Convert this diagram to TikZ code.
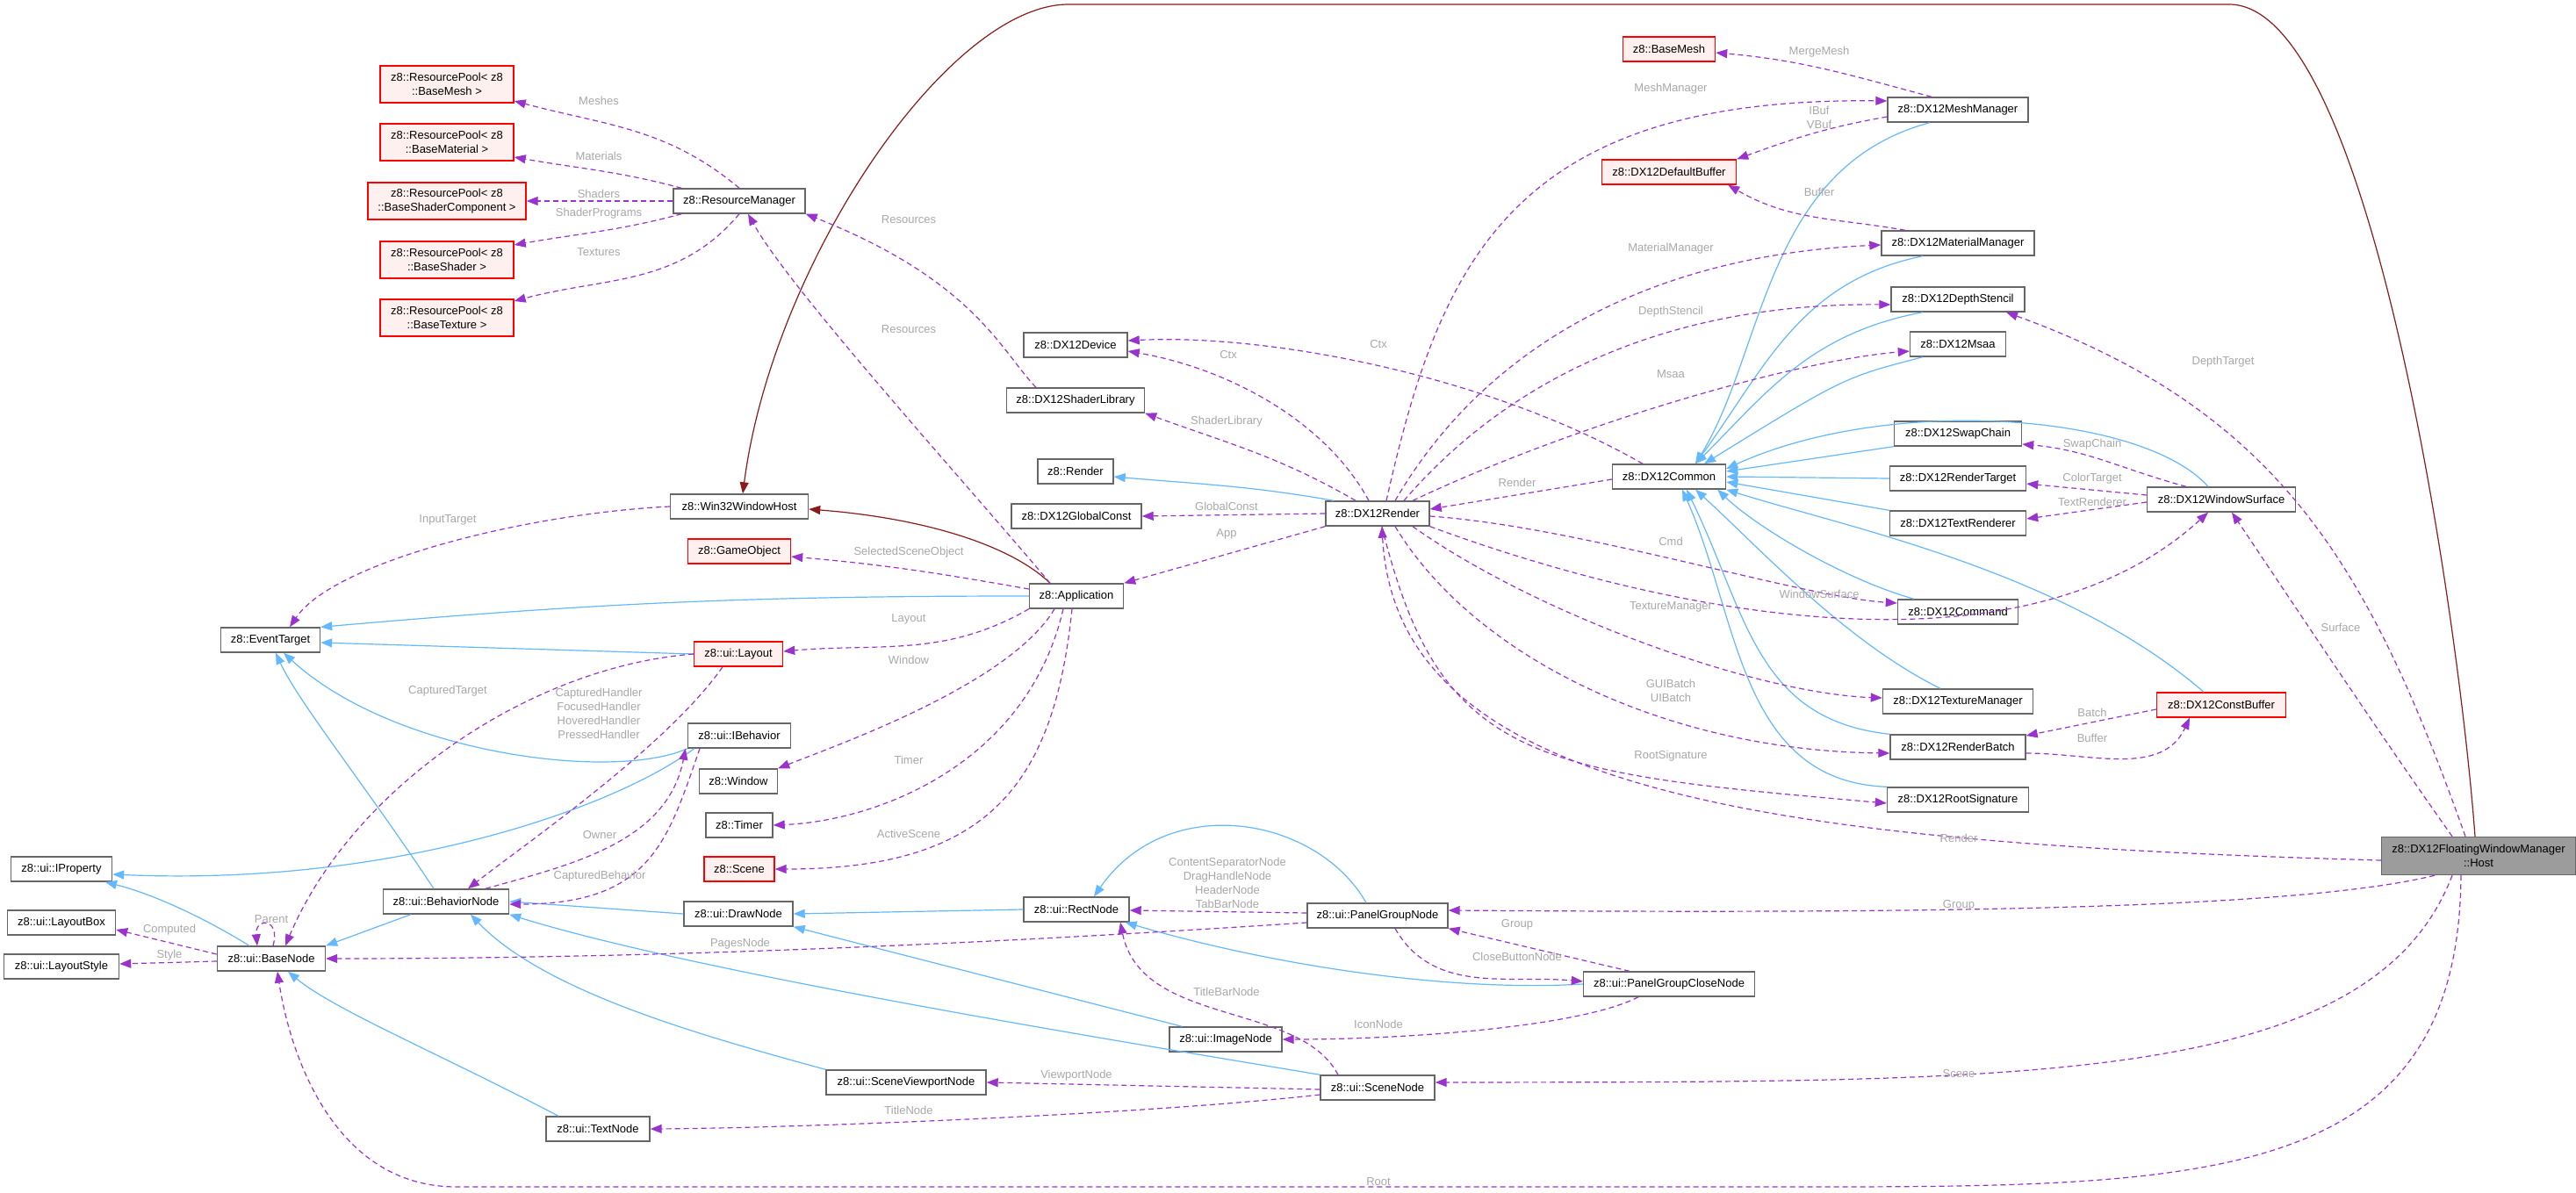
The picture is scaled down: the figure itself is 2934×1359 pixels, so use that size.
\documentclass[tikz,border=0pt]{standalone}
\usepackage{fontspec}
\setmainfont{Liberation Sans}
\usetikzlibrary{arrows.meta}
\definecolor{purp}{HTML}{9A32CD}
\definecolor{blu}{HTML}{63B8FF}
\definecolor{dred}{HTML}{8B1A1A}
\definecolor{bord}{HTML}{666666}
\definecolor{lab}{HTML}{A8A8A8}
\begin{document}
\begin{tikzpicture}[x=1pt,y=-1pt,
  every node/.style={font=\fontsize{13}{16}\selectfont},
  cls/.style={draw=bord,line width=1.4pt,fill=white,inner sep=0pt,minimum height=28pt,align=center},
  two/.style={minimum height=42pt},
  red/.style={draw=red,fill=red!6},
  lbl/.style={text=lab,inner sep=0pt,align=center},
  pd/.style={draw=purp,line width=1.2pt,dash pattern=on 6pt off 4pt,-{Triangle[length=13pt,width=10pt]}},
  bl/.style={draw=blu,line width=1.2pt,-{Triangle[length=13pt,width=10pt]}},
  dr/.style={draw=dred,line width=1.2pt,-{Triangle[length=13pt,width=10pt]}}]
\path[use as bounding box,fill=white] (0,0) rectangle (2934,1359);
% nodes
\node[cls,two,red,minimum width=152pt] (rpMesh) at (509,96) {z8::ResourcePool< z8\\::BaseMesh >};
\node[cls,two,red,minimum width=152pt] (rpMat) at (509,162) {z8::ResourcePool< z8\\::BaseMaterial >};
\node[cls,two,red,minimum width=180pt] (rpSC) at (509,229) {z8::ResourcePool< z8\\::BaseShaderComponent >};
\node[cls,two,red,minimum width=152pt] (rpShader) at (509,296) {z8::ResourcePool< z8\\::BaseShader >};
\node[cls,two,red,minimum width=152pt] (rpTex) at (509,362) {z8::ResourcePool< z8\\::BaseTexture >};
\node[cls,minimum width=150pt] (rm) at (842,229) {z8::ResourceManager};
\node[cls,minimum width=157pt] (win) at (842,577) {z8::Win32WindowHost};
\node[cls,red,minimum width=117pt] (gobj) at (842,628) {z8::GameObject};
\node[cls,minimum width=113pt] (evt) at (308,729) {z8::EventTarget};
\node[cls,red,minimum width=101pt] (layout) at (841,745) {z8::ui::Layout};
\node[cls,minimum width=117pt] (ibeh) at (842,838) {z8::ui::IBehavior};
\node[cls,minimum width=89pt] (window) at (841,890) {z8::Window};
\node[cls,minimum width=76pt] (timer) at (842,940) {z8::Timer};
\node[cls,red,minimum width=80pt] (scene) at (842,990) {z8::Scene};
\node[cls,minimum width=115pt] (iprop) at (70,990) {z8::ui::IProperty};
\node[cls,minimum width=123pt] (lbox) at (70,1051) {z8::ui::LayoutBox};
\node[cls,minimum width=131pt] (lstyle) at (70,1101) {z8::ui::LayoutStyle};
\node[cls,minimum width=123pt] (base) at (309,1092) {z8::ui::BaseNode};
\node[cls,minimum width=143pt] (bnode) at (508,1027) {z8::ui::BehaviorNode};
\node[cls,minimum width=124pt] (dnode) at (841,1041) {z8::ui::DrawNode};
\node[cls,minimum width=118pt] (tnode) at (681,1286) {z8::ui::TextNode};
\node[cls,minimum width=182pt] (svp) at (1032,1233) {z8::ui::SceneViewportNode};
\node[cls,minimum width=120pt] (rect) at (1226,1036) {z8::ui::RectNode};
\node[cls,minimum width=160pt] (pgn) at (1569,1043) {z8::ui::PanelGroupNode};
\node[cls,minimum width=195pt] (pgcn) at (1901,1121) {z8::ui::PanelGroupCloseNode};
\node[cls,minimum width=128pt] (img) at (1396,1184) {z8::ui::ImageNode};
\node[cls,minimum width=130pt] (sn) at (1569,1239) {z8::ui::SceneNode};
\node[cls,red,minimum width=105pt] (basemesh) at (1901,56) {z8::BaseMesh};
\node[cls,red,minimum width=153pt] (defbuf) at (1901,196) {z8::DX12DefaultBuffer};
\node[cls,minimum width=118pt] (dev) at (1225,393) {z8::DX12Device};
\node[cls,minimum width=157pt] (shlib) at (1225,456) {z8::DX12ShaderLibrary};
\node[cls,minimum width=86pt] (render) at (1225,537) {z8::Render};
\node[cls,minimum width=148pt] (gconst) at (1226,588) {z8::DX12GlobalConst};
\node[cls,minimum width=118pt] (dxr) at (1569,585) {z8::DX12Render};
\node[cls,minimum width=129pt] (dxc) at (1901,543) {z8::DX12Common};
\node[cls,minimum width=107pt] (app) at (1226,679) {z8::Application};
\node[cls,minimum width=160pt] (mm) at (2230,125) {z8::DX12MeshManager};
\node[cls,minimum width=174pt] (mat) at (2230,277) {z8::DX12MaterialManager};
\node[cls,minimum width=152pt] (ds) at (2230,341) {z8::DX12DepthStencil};
\node[cls,minimum width=109pt] (msaa) at (2230,392) {z8::DX12Msaa};
\node[cls,minimum width=145pt] (sc) at (2230,494) {z8::DX12SwapChain};
\node[cls,minimum width=155pt] (rt) at (2230,545) {z8::DX12RenderTarget};
\node[cls,minimum width=155pt] (tr) at (2230,596) {z8::DX12TextRenderer};
\node[cls,minimum width=169pt] (ws) at (2530,569) {z8::DX12WindowSurface};
\node[cls,minimum width=137pt] (cmd) at (2230,697) {z8::DX12Command};
\node[cls,minimum width=171pt] (tm) at (2230,799) {z8::DX12TextureManager};
\node[cls,red,minimum width=147pt] (cb) at (2530,803) {z8::DX12ConstBuffer};
\node[cls,minimum width=154pt] (rb) at (2230,851) {z8::DX12RenderBatch};
\node[cls,minimum width=161pt] (rs) at (2230,911) {z8::DX12RootSignature};
\node[cls,two,fill=bord!65,minimum width=221pt,minimum height=43pt] (host) at (2823,975) {z8::DX12FloatingWindowManager\\::Host};
% dark red
\draw[dr] ([xshift=-4]host.north) .. controls (2800,700) and (2700,5) .. (2539,5) -- (1217,5) .. controls (1080,5) and (880,300) .. ([xshift=4]win.north);
\draw[dr] ([xshift=-30]app.north) .. controls (1150,620) and (1050,590) .. ([yshift=-3]win.east);
% blue inheritance
\draw[bl] (app.west) to[out=180,in=5] (evt.north east);
\draw[bl] (layout.west) -- ([yshift=-3]evt.east);
\draw[bl] (ibeh.south west) .. controls (700,890) and (450,860) .. ([xshift=15]evt.south);
\draw[bl] ([xshift=-14]bnode.north) .. controls (420,900) and (340,800) .. ([xshift=6]evt.south);
\draw[bl] ([xshift=8]ibeh.south west) .. controls (700,920) and (450,1010) .. ([yshift=-6]iprop.east);
\draw[bl] ([xshift=-25]base.north) .. controls (240,1050) and (180,1020) .. ([xshift=50]iprop.south);
\draw[bl] ([xshift=-40]bnode.south) -- (base.north east);
\draw[bl] (dnode.west) -- (bnode.east);
\draw[bl] (svp.north west) .. controls (800,1180) and (620,1130) .. ([xshift=28]bnode.south);
\draw[bl] (sn.north west) .. controls (1300,1190) and (800,1110) .. (bnode.south east);
\draw[bl] ([xshift=15]img.north west) -- (dnode.south east);
\draw[bl] (rect.west) -- (dnode.east);
\draw[bl] ([xshift=-13]pgn.north) .. controls (1500,930) and (1330,900) .. ([xshift=20]rect.north);
\draw[bl] (pgcn.west) .. controls (1650,1130) and (1450,1100) .. ([xshift=-5]rect.south east);
\draw[bl] ([xshift=-45]tnode.north) .. controls (500,1200) and (380,1150) .. ([xshift=19]base.south);
\draw[bl] ([xshift=-50]dxr.north) to[out=170,in=-5] ([yshift=-6]render.east);
\draw[bl] ([xshift=-32]mm.south) .. controls (2010,190) and (2010,400) .. ([xshift=30]dxc.north);
\draw[bl] ([xshift=-40]mat.south) .. controls (2050,320) and (2010,420) .. ([xshift=30]dxc.north);
\draw[bl] ([xshift=-40]ds.south) .. controls (2060,380) and (2010,450) .. ([xshift=30]dxc.north);
\draw[bl] ([xshift=-40]msaa.south) .. controls (2100,430) .. ([xshift=40]dxc.north);
\draw[bl] (sc.south west) -- ([yshift=6]dxc.east);
\draw[bl] (rt.west) -- (dxc.east);
\draw[bl] (tr.north west) -- ([yshift=-6]dxc.east);
\draw[bl] ([xshift=-15]ws.north) .. controls (2440,470) and (2150,450) .. ([yshift=9]dxc.east);
\draw[bl] ([xshift=-50]cmd.north) .. controls (2100,660) and (2000,600) .. ([xshift=-10]dxc.south east);
\draw[bl] ([xshift=-20]tm.north) .. controls (2100,730) and (2000,620) .. ([xshift=30]dxc.south);
\draw[bl] (rb.north west) .. controls (2000,820) and (1990,700) .. ([xshift=20]dxc.south);
\draw[bl] (rs.north west) .. controls (1980,890) and (1980,700) .. ([xshift=15]dxc.south);
\draw[bl] ([xshift=-20]cb.north) .. controls (2350,650) and (2100,600) .. (dxc.south east);
% purple: resource manager
\draw[pd] (rm.north) to[out=140,in=-15] ([yshift=-19]rpMesh.east);
\draw[pd] ([xshift=10]rm.north west) to[out=165,in=-10] ([yshift=-17]rpMat.east);
\draw[pd] (rm.west) -- (rpSC.east);
\draw[pd] ([xshift=10]rm.south west) to[out=195,in=10] ([yshift=17]rpShader.east);
\draw[pd] (rm.south) to[out=-130,in=15] ([yshift=19]rpTex.east);
\draw[pd] ([xshift=-45]shlib.north) .. controls (1140,400) and (1110,320) .. (rm.south east);
\draw[pd] ([xshift=-30]app.north) .. controls (1100,550) and (900,330) .. ([xshift=10]rm.south);
% app / ui
\draw[pd] (win.west) .. controls (600,585) and (380,640) .. ([xshift=22]evt.north);
\draw[pd] ([yshift=8]app.west) to[out=170,in=-5] ([yshift=-6]gobj.east);
\draw[pd] (app.south west) to[out=-150,in=5] ([yshift=3]layout.east);
\draw[pd] ([xshift=-25]app.south) .. controls (1150,780) and (950,850) .. (window.north east);
\draw[pd] ([xshift=-15]app.south) .. controls (1170,870) and (1000,935) .. (timer.east);
\draw[pd] ([xshift=-5]app.south) .. controls (1200,900) and (1120,990) .. (scene.east);
\draw[pd] (layout.west) .. controls (600,760) and (400,900) .. ([xshift=16]base.north);
\draw[pd] ([xshift=-18]layout.south) .. controls (760,850) and (600,960) .. ([xshift=25]bnode.north);
\draw[pd] ([xshift=45]bnode.north) .. controls (650,985) and (760,960) .. ([xshift=-2]ibeh.south west);
\draw[pd] ([xshift=-45]ibeh.south) .. controls (760,960) and (740,1030) .. ([yshift=-3]bnode.east);
\draw[pd] ([xshift=2]base.north) .. controls (320,1045) and (290,1045) .. ([xshift=-16]base.north);
\draw[pd] ([yshift=5]base.west) -- ([yshift=-8]lbox.east);
\draw[pd] ([yshift=-3]base.west) -- ([yshift=3]lstyle.east);
\draw[pd] ([yshift=-8]pgn.west) .. controls (1200,1070) and (800,1092) .. (base.east);
\draw[pd] ([xshift=-20]host.south) .. controls (2800,1360) and (2500,1352) .. (2000,1352) -- (520,1352) .. controls (380,1352) and (330,1200) .. ([xshift=7]base.south);
\draw[pd] ([yshift=-8]sn.west) .. controls (1300,1270) and (900,1285) .. (tnode.east);
\draw[pd] ([yshift=-2]sn.west) -- (svp.east);
\draw[pd] ([yshift=3]pgn.west) -- ([yshift=-1]rect.east);
\draw[pd] ([xshift=-45]sn.north) .. controls (1480,1140) and (1300,1170) .. ([xshift=50]rect.south);
\draw[pd] ([xshift=-35]pgcn.south) .. controls (1800,1170) and (1600,1184) .. (img.east);
\draw[pd] ([xshift=20]pgn.south) to[out=-60,in=175] ([yshift=3]pgcn.west);
\draw[pd] ([xshift=-45]pgcn.north) -- (pgn.south east);
\draw[pd] ([xshift=-50]host.south) .. controls (2600,1040) and (2100,1040) .. ([yshift=6]pgn.east);
\draw[pd] ([xshift=-30]host.south) .. controls (2700,1240) and (2300,1232) .. ([yshift=6]sn.east);
% dx12
\draw[pd] ([yshift=-5]host.west) .. controls (2000,960) and (1590,900) .. ([xshift=5]dxr.south);
\draw[pd] ([xshift=-10]dxr.north) .. controls (1510,480) and (1400,420) .. ([yshift=-7]dev.east);
\draw[pd] ([xshift=-30]dxc.north) .. controls (1700,430) and (1450,380) .. ([yshift=5]dev.east);
\draw[pd] ([xshift=-25]dxr.north) to[out=150,in=-20] (shlib.south east);
\draw[pd] (dxr.west) -- (gconst.east);
\draw[pd] (dxr.south west) -- (app.north east);
\draw[pd] ([yshift=-3]dxc.west) -- ([yshift=5]dxr.east);
\draw[pd] ([xshift=10]dxr.north) .. controls (1640,300) and (1720,110) .. ([yshift=10]mm.west);
\draw[pd] ([xshift=-30]mm.north) to[out=165,in=-5] ([yshift=-4]basemesh.east);
\draw[pd] ([yshift=-8]mm.west) to[out=190,in=20] (defbuf.north east);
\draw[pd] ([xshift=-60]mat.north) to[out=170,in=-30] ([xshift=-10]defbuf.south east);
\draw[pd] ([xshift=20]dxr.north) .. controls (1700,380) and (1900,290) .. ([yshift=-2]mat.west);
\draw[pd] ([xshift=30]dxr.north) .. controls (1720,430) and (1900,345) .. ([yshift=-6]ds.west);
\draw[pd] ([xshift=40]dxr.north) .. controls (1800,480) and (2050,410) .. ([yshift=-8]msaa.west);
\draw[pd] ([yshift=-3]dxr.east) .. controls (1800,600) and (2050,680) .. ([yshift=10]cmd.west);
\draw[pd] ([xshift=40]dxr.south) .. controls (1750,700) and (2000,790) .. ([yshift=4]tm.west);
\draw[pd] ([xshift=20]dxr.south) .. controls (1680,750) and (1900,855) .. ([yshift=-7]rb.west);
\draw[pd] ([xshift=5]dxr.south) .. controls (1640,870) and (1750,880) .. ([yshift=-4]rs.west);
\draw[pd] (dxr.south east) .. controls (1900,700) and (2300,780) .. ([xshift=-15]ws.south);
\draw[pd] ([xshift=-40]ws.north) to[out=165,in=-5] ([yshift=-12]sc.east);
\draw[pd] ([yshift=5]ws.west) -- ([yshift=-6]rt.east);
\draw[pd] ([yshift=-3]ws.west) -- ([yshift=5]tr.east);
\draw[pd] ([yshift=-5]cb.west) -- ([yshift=13]rb.east);
\draw[pd] ([yshift=-7]rb.east) to[out=0,in=-115] ([xshift=-36]cb.south);
\draw[pd] ([xshift=-15]host.north) .. controls (2700,650) and (2600,470) .. ([xshift=55]ds.south);
\draw[pd] ([xshift=-30]host.north) .. controls (2720,850) and (2620,700) .. ([xshift=12]ws.south);
% labels
\node[lbl] (l1) at (682,115) {Meshes};
\node[lbl] (l2) at (682,178) {Materials};
\node[lbl] (l3) at (682,221) {Shaders};
\node[lbl] (l4) at (682,243) {ShaderPrograms};
\node[lbl] (l5) at (682,287) {Textures};
\node[lbl] (l6) at (1035,250) {Resources};
\node[lbl] (l7) at (1035,375) {Resources};
\node[lbl] (l8) at (510,592) {InputTarget};
\node[lbl] (l9) at (1035,629) {SelectedSceneObject};
\node[lbl] (l10) at (1035,705) {Layout};
\node[lbl] (l11) at (1035,752) {Window};
\node[lbl] (l12) at (1035,866) {Timer};
\node[lbl] (l13) at (1035,950) {ActiveScene};
\node[lbl] (l14) at (510,787) {CapturedTarget};
\node[lbl] (l15) at (682,813) {CapturedHandler\\FocusedHandler\\HoveredHandler\\PressedHandler};
\node[lbl] (l16) at (683,951) {Owner};
\node[lbl] (l17) at (683,998) {CapturedBehavior};
\node[lbl] (l18) at (309,1047) {Parent};
\node[lbl] (l19) at (193,1059) {Computed};
\node[lbl] (l20) at (193,1088) {Style};
\node[lbl] (l21) at (843,1075) {PagesNode};
\node[lbl] (l22) at (1570,1346) {Root};
\node[lbl] (l23) at (1035,1265) {TitleNode};
\node[lbl] (l24) at (1226,1225) {ViewportNode};
\node[lbl] (l25) at (1398,1006) {ContentSeparatorNode\\DragHandleNode\\HeaderNode\\TabBarNode};
\node[lbl] (l26) at (1397,1130) {TitleBarNode};
\node[lbl] (l27) at (1570,1167) {IconNode};
\node[lbl] (l28) at (1728,1090) {CloseButtonNode};
\node[lbl] (l29) at (1728,1053) {Group};
\node[lbl] (l30) at (2231,1031) {Group};
\node[lbl] (l31) at (2231,1223) {Scene};
\node[lbl] (l32) at (2231,955) {Render};
\node[lbl] (l33) at (1399,404) {Ctx};
\node[lbl] (l34) at (1570,392) {Ctx};
\node[lbl] (l35) at (1397,480) {ShaderLibrary};
\node[lbl] (l36) at (1397,577) {GlobalConst};
\node[lbl] (l37) at (1397,608) {App};
\node[lbl] (l38) at (1728,550) {Render};
\node[lbl] (l39) at (1903,101) {MeshManager};
\node[lbl] (l40) at (2072,59) {MergeMesh};
\node[lbl] (l41) at (2072,134) {IBuf\\VBuf};
\node[lbl] (l42) at (2072,219) {Buffer};
\node[lbl] (l43) at (1903,283) {MaterialManager};
\node[lbl] (l44) at (1903,355) {DepthStencil};
\node[lbl] (l45) at (1903,426) {Msaa};
\node[lbl] (l46) at (1903,617) {Cmd};
\node[lbl] (l47) at (1903,691) {TextureManager};
\node[lbl] (l48) at (1903,787) {GUIBatch\\UIBatch};
\node[lbl] (l49) at (1903,861) {RootSignature};
\node[lbl] (l50) at (2072,677) {WindowSurface};
\node[lbl] (l51) at (2383,506) {SwapChain};
\node[lbl] (l52) at (2383,545) {ColorTarget};
\node[lbl] (l53) at (2383,572) {TextRenderer};
\node[lbl] (l54) at (2383,812) {Batch};
\node[lbl] (l55) at (2383,841) {Buffer};
\node[lbl] (l56) at (2532,412) {DepthTarget};
\node[lbl] (l57) at (2666,715) {Surface};
\end{tikzpicture}
\end{document}
